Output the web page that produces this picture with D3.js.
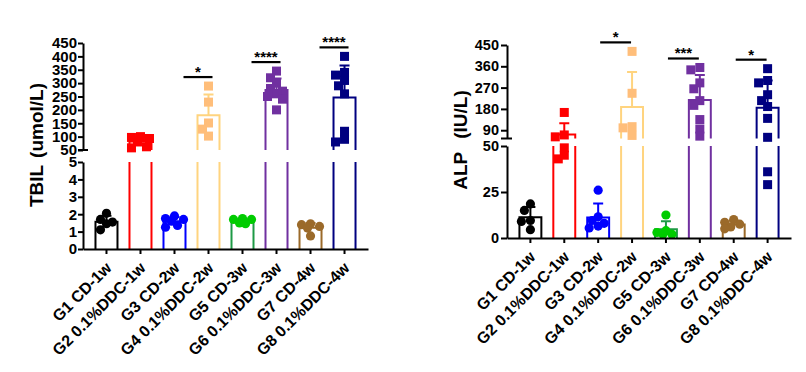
<!DOCTYPE html>
<html><head><meta charset="utf-8">
<script src="https://cdn.jsdelivr.net/npm/d3@7"></script>
<style>
body{margin:0;background:#fff}
svg{display:block}
text{font-family:"Liberation Sans",Arial,sans-serif;font-weight:bold;fill:#000}
</style>
</head><body>
<svg id="chart" width="806" height="372"></svg>
<script>
// ---------------- data ----------------
const categories = ["G1 CD-1w","G2 0.1%DDC-1w","G3 CD-2w","G4 0.1%DDC-2w","G5 CD-3w","G6 0.1%DDC-3w","G7 CD-4w","G8 0.1%DDC-4w"];

const tbilValues = [
  [2.05, 1.7, 1.55, 1.45, 1.1],
  [100, 97, 93, 80, 62, 58],
  [1.9, 1.75, 1.7, 1.6, 1.35, 1.25],
  [289, 229, 151, 128, 102],
  [1.75, 1.7, 1.5, 1.45, 1.7],
  [345, 320, 300, 280, 270, 260, 250, 240, 200],
  [1.45, 1.4, 1.3, 1.2, 0.75],
  [400, 340, 330, 310, 290, 260, 120, 90, 80]
];
const alpValues = [
  [18.5, 15, 9.5, 9, 4.5],
  [165, 70, 62, 49, 45, 43],
  [26, 11.5, 9.5, 8, 6.5, 5.5],
  [423, 246, 105, 100, 68],
  [12.5, 4, 3, 2, 2],
  [355, 345, 290, 265, 215, 195, 135, 95, 65],
  [10, 8.5, 7.5, 6, 5],
  [350, 300, 290, 240, 215, 190, 140, 60, 36, 29]
];

const tbilTicksUpper = [50, 100, 150, 200, 250, 300, 350, 400, 450];
const tbilTicksLower = [0, 1, 2, 3, 4, 5];
const alpTicksUpper = [90, 180, 270, 360, 450];
const alpTicksLower = [0, 25, 50];

const tbilSig = [[2, 3, "*"], [4, 5, "****"], [6, 7, "****"]];
const alpSig = [[2, 3, "*"], [4, 5, "***"], [6, 7, "*"]];

// ---------------- styles ----------------
const barColors = ["#000000", "#FF0000", "#0000FF", "#FFD47F", "#1E9A46", "#7030A0", "#9B6A2A", "#000080"];
const pointColors = ["#000000", "#FF0000", "#0000FF", "#FFBE7A", "#00CC00", "#7030A0", "#9B6A2A", "#000080"];

const svg = d3.select("#chart");

function drawChart(cfg) {
  const g = svg.append("g");
  const x = d3.scaleBand().domain(categories).range([cfg.x0, cfg.x1])
    .paddingInner(0.353).paddingOuter(0.367);
  const yl = d3.scaleLinear().domain(cfg.lowerDomain).range(cfg.lowerRange);
  const yu = d3.scaleLinear().domain(cfg.upperDomain).range(cfg.upperRange);
  const lowMax = cfg.lowerDomain[1], upMin = cfg.upperDomain[0];
  const y = v => v <= lowMax ? yl(v) : yu(Math.max(v, upMin));
  const bw = x.bandwidth();

  cfg.data.forEach((vals, i) => {
    const cat = categories[i];
    const cx = x(cat) + bw / 2;
    const x0 = x(cat), x1 = x(cat) + bw;
    const m = d3.mean(vals), sd = d3.deviation(vals);
    const col = barColors[i];
    let p = "";
    if (m <= lowMax) {
      p = `M${x0},${yl(0)}V${yl(m)}H${x1}V${yl(0)}`;
    } else {
      p = `M${x0},${yl(0)}V${yl(lowMax)}M${x1},${yl(0)}V${yl(lowMax)}` +
          `M${x0},${yu(upMin)}V${yu(m)}H${x1}V${yu(upMin)}`;
    }
    g.append("path").attr("d", p).attr("fill", "none").attr("stroke", col).attr("stroke-width", 2);
    // error bar (mean + SD)
    const yt = y(m + sd);
    g.append("path").attr("d", `M${cx},${y(m)}V${yt}M${cx - 5},${yt}H${cx + 5}`)
      .attr("fill", "none").attr("stroke", col).attr("stroke-width", 2);

    // simple swarm placement
    const placed = [];
    const sorted = vals.slice().sort((a, b) => b - a);
    const offs = [0, -6, 6, -9, 9, -3, 3];
    sorted.forEach(v => {
      const py = y(v);
      let best = offs[0], bestD = -1;
      for (const o of offs) {
        const dmin = placed.length ? d3.min(placed, q => Math.hypot(q[0] - (cx + o), q[1] - py)) : 99;
        if (dmin >= 7) { best = o; bestD = dmin; break; }
        if (dmin > bestD) { bestD = dmin; best = o; }
      }
      placed.push([cx + best, py]);
    });
    placed.forEach(([px, py]) => {
      if (i % 2 === 0) {
        g.append("circle").attr("cx", px).attr("cy", py).attr("r", 4.6).attr("fill", pointColors[i]);
      } else {
        g.append("rect").attr("x", px - 4.5).attr("y", py - 4.5).attr("width", 9).attr("height", 9).attr("fill", pointColors[i]);
      }
    });
  });

  // significance bars
  cfg.sig.forEach(([a, b, label]) => {
    const xa = x(categories[a]) + bw / 2 + cfg.sigOff[0];
    const xb = x(categories[b]) + bw / 2 + cfg.sigOff[1];
    const ly = y(d3.max(cfg.data[b])) - 9;
    g.append("line").attr("x1", xa).attr("x2", xb).attr("y1", ly).attr("y2", ly)
      .attr("stroke", "#000").attr("stroke-width", 2.2);
    g.append("text").attr("x", (xa + xb) / 2).attr("y", ly).attr("text-anchor", "middle")
      .attr("font-size", 15).text(label);
  });

  // y axes
  const styleAxis = sel => {
    sel.selectAll("path.domain").attr("stroke", "#000").attr("stroke-width", 2);
    sel.selectAll(".tick line").attr("stroke", "#000").attr("stroke-width", 2);
    sel.selectAll("text").attr("font-size", cfg.tickFont).attr("font-family", null).style("font-weight", "bold");
  };
  g.append("g").attr("transform", `translate(${cfg.x0},0)`)
    .call(d3.axisLeft(yu).tickValues(cfg.ticksUpper).tickFormat(d3.format("d"))
      .tickSize(cfg.tick).tickPadding(cfg.pad).tickSizeOuter(0))
    .call(styleAxis);
  g.append("g").attr("transform", `translate(${cfg.x0},0)`)
    .call(d3.axisLeft(yl).tickValues(cfg.ticksLower).tickFormat(d3.format("d"))
      .tickSize(cfg.tick).tickPadding(cfg.pad).tickSizeOuter(0))
    .call(styleAxis);
  // break mark at bottom of upper segment
  g.append("line").attr("x1", cfg.x0 - cfg.tick).attr("x2", cfg.x0 + 5)
    .attr("y1", yu(upMin)).attr("y2", yu(upMin)).attr("stroke", "#000").attr("stroke-width", 2);

  // x axis
  const xa = g.append("g").attr("transform", `translate(0,${cfg.lowerRange[0]})`)
    .call(d3.axisBottom(x).tickSize(5).tickSizeOuter(0));
  xa.selectAll("path.domain").attr("stroke", "#000").attr("stroke-width", 2);
  xa.selectAll(".tick line").attr("stroke", "#000").attr("stroke-width", 2);
  xa.selectAll("text").attr("font-size", 16).attr("font-family", null).style("font-weight", "bold")
    .attr("x", 0).attr("y", 0).attr("dy", 0).attr("text-anchor", "end")
    .attr("transform", "translate(6,20) rotate(-45)");

  // y title
  g.append("text").attr("transform", `translate(${cfg.titlePos[0]},${cfg.titlePos[1]}) rotate(-90)`)
    .attr("text-anchor", "middle").attr("font-size", 19).style("word-spacing", cfg.wordSpacing)
    .text(cfg.title);
}

drawChart({
  data: tbilValues, sig: tbilSig, sigOff: [9, 4],
  x0: 83, x1: 368,
  lowerDomain: [0, 5], lowerRange: [249, 162],
  upperDomain: [50, 450], upperRange: [150, 43],
  ticksUpper: tbilTicksUpper, ticksLower: tbilTicksLower,
  tick: 5, pad: 1, tickFont: 15,
  title: "TBIL (umol/L)", titlePos: [43, 145], wordSpacing: "2px"
});
drawChart({
  data: alpValues, sig: alpSig, sigOff: [2, -1],
  x0: 507, x1: 791,
  lowerDomain: [0, 50], lowerRange: [238, 146],
  upperDomain: [55, 450], upperRange: [138.5, 45],
  ticksUpper: alpTicksUpper, ticksLower: alpTicksLower,
  tick: 6, pad: 2, tickFont: 14.5,
  title: "ALP (IU/L)", titlePos: [467, 140], wordSpacing: "8px"
});
</script>
</body></html>
